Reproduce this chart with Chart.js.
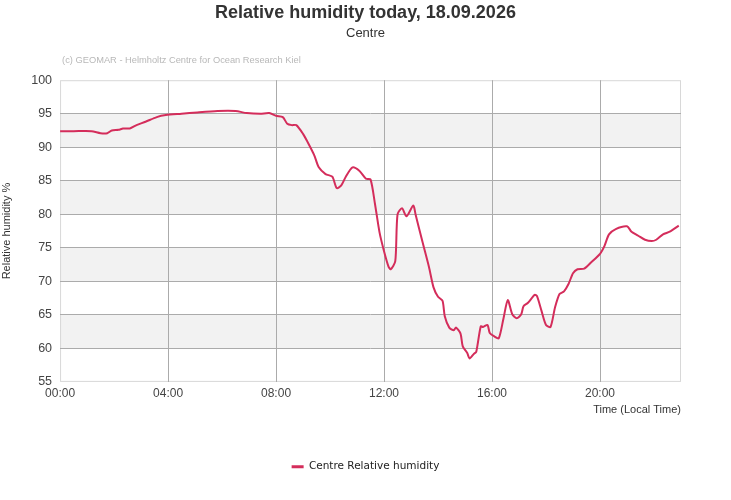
<!DOCTYPE html>
<html>
<head>
<meta charset="utf-8">
<script src="https://cdn.jsdelivr.net/npm/chart.js@4"></script>
<style>
  html, body { margin: 0; padding: 0; background: #fff; }
  #wrap { width: 731px; height: 500px; }
</style>
</head>
<body>
<div id="wrap"><canvas id="humidityChart"></canvas></div>
<script>
// время измерений (местное) и значения влажности
const times = [
    '00:00', '00:30', '01:10', '01:30', '01:45', '01:55', '02:10', '02:20', '02:35', '02:50',
    '03:10', '03:35', '03:55', '04:30', '05:05', '05:50', '06:30', '06:55', '07:25', '07:45',
    '08:00', '08:15', '08:25', '08:35', '08:45', '09:00', '09:10', '09:25', '09:35', '09:50',
    '10:05', '10:15', '10:25', '10:35', '10:50', '11:05', '11:20', '11:30', '11:40', '11:50',
    '12:00', '12:10', '12:15', '12:25', '12:30', '12:40', '12:50', '13:05', '13:10', '13:25',
    '13:40', '13:50', '14:00', '14:10', '14:15', '14:25', '14:35', '14:40', '14:50', '14:55',
    '15:05', '15:10', '15:20', '15:25', '15:35', '15:40', '15:50', '15:55', '16:05', '16:15',
    '16:25', '16:35', '16:45', '16:55', '17:05', '17:10', '17:20', '17:35', '17:40', '17:50',
    '18:00', '18:10', '18:20', '18:30', '18:40', '18:50', '19:00', '19:10', '19:25', '19:40',
    '20:00', '20:10', '20:20', '20:35', '21:00', '21:10', '21:25', '21:40', '21:55', '22:05',
    '22:20', '22:35', '22:55'
];
const humidity = [
    92.4, 92.4, 92.4, 92.1, 92.1, 92.5, 92.6, 92.8, 92.8, 93.3,
    93.8, 94.5, 94.8, 95.0, 95.2, 95.4, 95.4, 95.1, 95.0, 95.1,
    94.7, 94.5, 93.5, 93.3, 93.3, 92.0, 90.8, 88.8, 87.0, 86.0,
    85.6, 83.9, 84.3, 85.6, 87.0, 86.5, 85.3, 85.2, 81.5, 77.3,
    74.5, 72.2, 71.8, 73.0, 80.0, 80.9, 79.7, 81.3, 80.0, 76.0,
    72.1, 69.1, 67.7, 67.1, 64.8, 63.1, 62.7, 63.1, 62.2, 60.3,
    59.3, 58.5, 59.2, 59.5, 63.3, 63.2, 63.5, 62.3, 61.8, 61.5,
    64.3, 67.2, 65.1, 64.5, 65.1, 66.3, 66.8, 68.0, 67.8, 65.6,
    63.5, 63.2, 66.1, 68.1, 68.5, 69.6, 71.2, 71.8, 71.9, 72.8,
    74.1, 75.3, 77.0, 77.8, 78.2, 77.4, 76.8, 76.2, 76.0, 76.2,
    77.0, 77.4, 78.3
];
const yMin = 55;
const yMax = 100;
const xMaxHours = 23;
// полосы серого фона
const bands = [[90, 95], [80, 85], [70, 75], [60, 65]];

const toHours = t => {
    const [h, m] = t.split(':').map(Number);
    return h + m / 60;
};
const points = times.map((t, i) => ({ x: toHours(t), y: humidity[i] }));

const bgPlugin = {
    id: 'bgPlugin',
    beforeDraw(chart) {
        const { ctx, chartArea: a, scales: { y } } = chart;
        ctx.save();
        ctx.fillStyle = '#f2f2f2';
        bands.forEach(([lo, hi]) => {
            const top = y.getPixelForValue(hi);
            const bot = y.getPixelForValue(lo);
            ctx.fillRect(a.left, top, a.right - a.left, bot - top);
        });
        ctx.strokeStyle = '#d8d8d8';
        ctx.lineWidth = 1;
        ctx.strokeRect(a.left + 0.5, a.top + 0.5, a.right - a.left - 1, a.bottom - a.top - 1);
        // копирайт над графиком
        ctx.fillStyle = '#b8b8b8';
        ctx.font = '9.3px "Liberation Sans", Arial, sans-serif';
        ctx.textBaseline = 'middle';
        ctx.textAlign = 'left';
        ctx.fillText('(c) GEOMAR - Helmholtz Centre for Ocean Research Kiel', a.left + 2, a.top - 20);
        ctx.restore();
    }
};

const gridColor = (ctx, edges) => edges.includes(ctx.tick.value) ? 'rgba(0,0,0,0)' : '#ababab';

new Chart(document.getElementById('humidityChart'), {
    type: 'line',
    data: {
        datasets: [{
            label: 'Centre Relative humidity',
            data: points,
            borderColor: '#d42d5b',
            backgroundColor: '#d42d5b',
            borderWidth: 2,
            tension: 0.25,
            pointRadius: 0,
            fill: false
        }]
    },
    options: {
        responsive: true,
        maintainAspectRatio: false,
        animation: false,
        layout: {
            padding: { left: 0, right: 0, top: 2, bottom: 18 }
        },
        plugins: {
            title: {
                display: true,
                text: 'Relative humidity today, 18.09.2026',
                color: '#333',
                font: { family: '"Liberation Sans", Arial, sans-serif', size: 18, weight: 'bold' },
                padding: { top: 0, bottom: 2 }
            },
            subtitle: {
                display: true,
                text: 'Centre',
                color: '#333',
                font: { family: '"Liberation Sans", Arial, sans-serif', size: 13 },
                padding: { top: 0, bottom: 39 }
            },
            legend: {
                position: 'bottom',
                labels: {
                    usePointStyle: true,
                    pointStyle: 'line',
                    pointStyleWidth: 12,
                    color: '#222',
                    font: { family: '"DejaVu Sans", sans-serif', size: 10.5 },
                    padding: 10,
                    generateLabels: chart => Chart.defaults.plugins.legend.labels.generateLabels(chart)
                        .map(l => Object.assign(l, { lineWidth: 3 }))
                }
            },
            tooltip: { enabled: false }
        },
        scales: {
            x: {
                type: 'linear',
                min: 0,
                max: xMaxHours,
                ticks: {
                    stepSize: 4,
                    includeBounds: false,
                    color: '#444',
                    font: { family: '"Liberation Sans", Arial, sans-serif', size: 12 },
                    maxRotation: 0,
                    padding: 5,
                    callback: v => String(v).padStart(2, '0') + ':00'
                },
                grid: {
                    color: ctx => gridColor(ctx, [0]),
                    drawTicks: false
                },
                border: { display: false },
                title: {
                    display: true,
                    text: 'Time (Local Time)',
                    align: 'end',
                    color: '#333',
                    font: { family: '"Liberation Sans", Arial, sans-serif', size: 11 },
                    padding: { top: -3, bottom: 35 }
                }
            },
            y: {
                min: yMin,
                max: yMax,
                ticks: {
                    stepSize: 5,
                    color: '#444',
                    font: { family: '"Liberation Sans", Arial, sans-serif', size: 12.5 },
                    padding: 8
                },
                grid: {
                    color: ctx => gridColor(ctx, [yMin, yMax]),
                    drawTicks: false
                },
                border: { display: false },
                title: {
                    display: true,
                    text: 'Relative humidity %',
                    color: '#333',
                    font: { family: '"Liberation Sans", Arial, sans-serif', size: 11 },
                    padding: { top: 0, bottom: 10 }
                }
            },
            // пустая правая ось — только отступ справа
            yRight: {
                position: 'right',
                display: true,
                ticks: { display: false },
                grid: { display: false },
                border: { display: false },
                afterFit: scale => { scale.width = 50; }
            }
        }
    },
    plugins: [bgPlugin]
});
</script>
</body>
</html>
